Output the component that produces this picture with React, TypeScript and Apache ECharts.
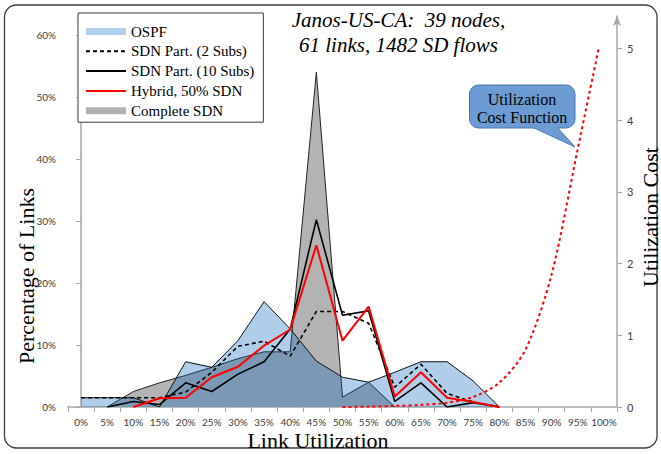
import React, { useEffect, useRef } from "react";
import * as echarts from "echarts";

const categories = ["0%", "5%", "10%", "15%", "20%", "25%", "30%", "35%", "40%", "45%", "50%", "55%", "60%", "65%", "70%", "75%", "80%", "85%", "90%", "95%", "100%"];
const ospf = [1.5, 1.5, 1.5, 0, 7.3, 6.4, 10.7, 17.0, 12.6, 7.4, 4.8, 4.0, 5.6, 7.3, 7.3, 4.2, 0, null, null, null, null];
const sdn2 = [1.5, 1.5, 1.5, 1.5, 2.4, 5.6, 9.8, 10.6, 8.2, 15.4, 15.4, 13.5, 3.2, 6.9, 2.2, 0.8, 0, null, null, null, null];
const sdn10 = [null, 0, 0.9, 0.4, 3.9, 2.5, 5.3, 7.3, 12.6, 30.2, 14.8, 15.5, 0.9, 3.9, 0, 0.7, 0, null, null, null, null];
const hybrid = [null, null, 0, 1.4, 1.5, 4.8, 6.5, 9.9, 12.5, 26.1, 10.7, 16.2, 1.7, 5.6, 1.5, 0.8, 0, null, null, null, null];
const completeSdn = [null, 0, 2.5, 3.9, 5.1, 6.4, 7.8, 8.9, 8.9, 54.0, 1.6, 4.0, 0, null, null, null, null, null, null, null, null];
const costUtil = [0.5, 0.55, 0.6, 0.65, 0.7, 0.75, 0.8, 0.85, 0.9, 0.95, 0.99];
const costValues = [0, 0.005, 0.015, 0.03, 0.06, 0.14, 0.34, 0.8, 1.85, 3.6, 5.0];
const leftTicks = [0, 10, 20, 30, 40, 50, 60];
const rightTicks = [0, 1, 2, 3, 4, 5];

const serif = '"Liberation Serif", "Times New Roman", serif';
const sans = 'Lato, "Open Sans", sans-serif';

export default function App() {
  const ref = useRef<HTMLDivElement>(null);
  useEffect(() => {
    if (!ref.current) return;
    const chart = echarts.init(ref.current, null, { renderer: "svg" });
    const axisGray = "#a6a6a6";
    const option: any = {
      animation: false,
      backgroundColor: "#ffffff",
      grid: { left: 68, right: 44, top: 16, bottom: 47, containLabel: false },
      legend: {
        orient: "vertical",
        left: 78,
        top: 13,
        padding: [11, 9, 4, 7],
        itemGap: 4.8,
        itemWidth: 40,
        itemHeight: 7,
        backgroundColor: "#ffffff",
        borderColor: "#3a3a3a",
        borderWidth: 1,
        borderRadius: 0,
        textStyle: { fontFamily: serif, fontSize: 15, lineHeight: 15, color: "#000" },
        data: [
          { name: "OSPF", icon: "rect", itemStyle: { color: "#afcfea", borderWidth: 0 } },
          { name: "SDN Part. (2 Subs)", itemStyle: { opacity: 0 } },
          { name: "SDN Part. (10 Subs)", itemStyle: { opacity: 0 } },
          { name: "Hybrid, 50% SDN", itemStyle: { opacity: 0 } },
          { name: "Complete SDN", icon: "rect", itemStyle: { color: "#b3b3b3", borderWidth: 0 } },
        ],
      },
      xAxis: [
        {
          type: "category",
          data: categories,
          boundaryGap: true,
          axisLine: { show: true, lineStyle: { color: "#bdbdbd", width: 2 } },
          axisTick: { show: true, interval: 0, length: 5, lineStyle: { color: axisGray } },
          axisLabel: { interval: 0, margin: 10, fontFamily: sans, fontSize: 10, color: "#404040" },
          splitLine: { show: false },
        },
        { type: "value", min: -0.025, max: 1.025, show: false },
      ],
      yAxis: [
        {
          type: "value",
          min: 0,
          max: 63.07,
          position: "left",
          splitLine: { show: false },
          axisLine: { show: true, lineStyle: { color: axisGray, width: 1.5 }, symbol: ["none", "arrow"], symbolSize: [6, 10] },
          axisTick: { show: true, length: 5, customValues: leftTicks, lineStyle: { color: axisGray } },
          axisLabel: { customValues: leftTicks, formatter: "{value}%", margin: 12, fontFamily: sans, fontSize: 10, color: "#404040" },
        },
        {
          type: "value",
          min: 0,
          max: 5.45,
          position: "right",
          splitLine: { show: false },
          axisLine: { show: true, lineStyle: { color: axisGray, width: 1.5 }, symbol: ["none", "arrow"], symbolSize: [6, 10] },
          axisTick: { show: true, length: 5, customValues: rightTicks, lineStyle: { color: axisGray } },
          axisLabel: { customValues: rightTicks, margin: 10, fontFamily: sans, fontSize: 11, color: "#404040" },
        },
      ],
      series: [
        {
          name: "Complete SDN",
          type: "line",
          data: completeSdn,
          z: 1,
          symbol: "none",
          connectNulls: false,
          itemStyle: { color: "#b3b3b3" },
          lineStyle: { color: "#222", width: 1 },
          areaStyle: { color: "#b3b3b3", opacity: 1 },
        },
        {
          name: "OSPF",
          type: "line",
          data: ospf,
          z: 2,
          symbol: "none",
          itemStyle: { color: "#afcfea" },
          lineStyle: { color: "#111", width: 1 },
          areaStyle: { color: "rgba(0,98,185,0.31)", opacity: 1 },
        },
        {
          name: "SDN Part. (2 Subs)",
          type: "line",
          data: sdn2,
          z: 3,
          symbol: "none",
          itemStyle: { color: "#000" },
          lineStyle: { color: "#000", width: 1.6, type: [4, 3] },
        },
        {
          name: "SDN Part. (10 Subs)",
          type: "line",
          data: sdn10,
          z: 3,
          symbol: "none",
          itemStyle: { color: "#000" },
          lineStyle: { color: "#000", width: 1.6 },
        },
        {
          name: "Hybrid, 50% SDN",
          type: "line",
          data: hybrid,
          z: 4,
          symbol: "none",
          itemStyle: { color: "#ff0000" },
          lineStyle: { color: "#ff0000", width: 2 },
        },
        {
          name: "Utilization Cost Function",
          type: "line",
          xAxisIndex: 1,
          yAxisIndex: 1,
          data: costUtil.map((u, i) => [u, costValues[i]]),
          z: 4,
          symbol: "none",
          smooth: 0.3,
          itemStyle: { color: "#ff0000" },
          lineStyle: { color: "#ff0000", width: 2, type: [3, 3] },
        },
      ],
      graphic: [
        {
          type: "rect",
          z: -10,
          shape: { x: 4.5, y: 5, width: 652.5, height: 443, r: 12 },
          style: { fill: "none", stroke: "#3d3d3d", lineWidth: 1.3 },
        },
        {
          type: "text",
          x: 398.5,
          y: 20,
          style: { text: "Janos-US-CA:  39 nodes,", font: `italic 21px ${serif}`, fill: "#000", align: "center", verticalAlign: "middle" },
        },
        {
          type: "text",
          x: 398.5,
          y: 45,
          style: { text: "61 links, 1482 SD flows", font: `italic 21px ${serif}`, fill: "#000", align: "center", verticalAlign: "middle" },
        },
        {
          type: "text",
          x: 26,
          y: 276,
          rotation: Math.PI / 2,
          style: { text: "Percentage of Links", font: `22px ${serif}`, fill: "#000", align: "center", verticalAlign: "middle" },
        },
        {
          type: "text",
          x: 650,
          y: 217,
          rotation: Math.PI / 2,
          style: { text: "Utilization Cost", font: `22px ${serif}`, fill: "#000", align: "center", verticalAlign: "middle" },
        },
        {
          type: "text",
          x: 318,
          y: 440,
          style: { text: "Link Utilization", font: `22px ${serif}`, fill: "#000", align: "center", verticalAlign: "middle" },
        },
        {
          type: "polygon",
          z: 20,
          shape: { points: [[530, 126], [575, 147], [556, 126]] },
          style: { fill: "#6d9bd4", stroke: "#4a76ad", lineWidth: 1 },
        },
        {
          type: "rect",
          z: 21,
          shape: { x: 469.5, y: 85, width: 105.5, height: 43, r: 9 },
          style: { fill: "#6d9bd4", stroke: "#4a76ad", lineWidth: 1 },
        },
        {
          type: "polygon",
          z: 22,
          shape: { points: [[531, 126], [573, 146], [555.5, 126]] },
          style: { fill: "#6d9bd4" },
        },
        {
          type: "text",
          z: 23,
          x: 522,
          y: 99.5,
          style: { text: "Utilization", font: `16px ${serif}`, fill: "#000", align: "center", verticalAlign: "middle" },
        },
        {
          type: "text",
          z: 23,
          x: 522,
          y: 117.5,
          style: { text: "Cost Function", font: `16px ${serif}`, fill: "#000", align: "center", verticalAlign: "middle" },
        },
      ],
    };
    chart.setOption(option);
    return () => chart.dispose();
  }, []);
  return <div ref={ref} style={{ position: "fixed", left: 0, top: 0, width: 661, height: 454 }} />;
}
